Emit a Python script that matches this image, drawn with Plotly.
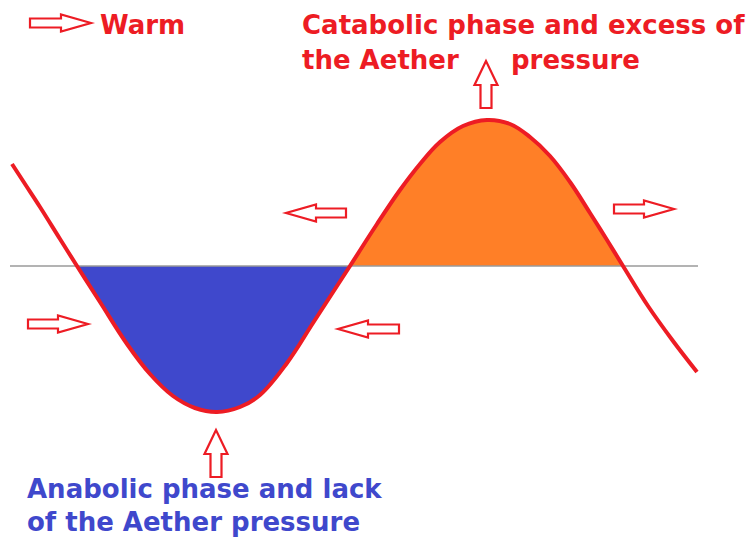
import plotly.graph_objects as go

# ---- data (x: horizontal position, y: displacement above the baseline) ----
curve_x = [12, 25, 40, 60, 77, 100, 127, 150, 173, 195, 217, 240, 260, 287, 313, 337, 350,
           377, 400, 420, 440, 463, 487, 510, 530, 550, 570, 590, 607, 623, 648, 673, 697]
curve_y = [102, 82, 59, 27, 0, -36, -78, -108, -130, -142, -146, -141, -129, -97, -57, -20, 0,
           42, 76, 102, 124, 140, 146, 142, 129, 110, 84, 53, 26, 0, -40, -75, -106]
baseline_x = [10, 698]
anabolic_span = [77, 350]
catabolic_span = [350, 623]

# arrows: tip x, tip y, direction, length
arrow_tips_x = [91, 286, 674, 88, 338, 486, 216]
arrow_tips_y = [243, 53, 57, -58, -63, 205, -164]
arrow_dirs = ["right", "left", "right", "right", "left", "up", "up"]
arrow_lengths = [61, 60, 60, 60, 61, 47, 47]

labels = ["Warm", "Catabolic phase and excess of", "the Aether", "pressure",
          "Anabolic phase and lack", "of the Aether pressure"]
label_x = [98, 300, 300, 509, 25, 25]
label_y = [241, 241, 206, 206, -223, -256]
label_colors = ["#ED1C24", "#ED1C24", "#ED1C24", "#ED1C24", "#3F48CC", "#3F48CC"]

RED = "#ED1C24"
BLUE = "#3F48CC"
ORANGE = "#FF7F27"

# the page body adds an 8px margin; shift the visible window to compensate
PAGE_OFFSET = 8

fig = go.Figure()


def segment(lo, hi):
    xs = [x for x in curve_x if lo <= x <= hi]
    ys = [y for x, y in zip(curve_x, curve_y) if lo <= x <= hi]
    return xs, ys


bx, by = segment(*anabolic_span)
fig.add_trace(go.Scatter(x=bx, y=by, fill="toself", fillcolor=BLUE, mode="lines",
                         line=dict(width=0, shape="spline", smoothing=1.1), hoverinfo="skip"))
ox, oy = segment(*catabolic_span)
fig.add_trace(go.Scatter(x=ox, y=oy, fill="toself", fillcolor=ORANGE, mode="lines",
                         line=dict(width=0, shape="spline", smoothing=1.1), hoverinfo="skip"))

fig.add_trace(go.Scatter(x=baseline_x, y=[0, 0], mode="lines",
                         line=dict(color="#9a9a9a", width=1.5), hoverinfo="skip"))

fig.add_trace(go.Scatter(x=curve_x, y=curve_y, mode="lines",
                         line=dict(color=RED, width=4, shape="spline", smoothing=1.1),
                         hoverinfo="skip"))


def arrow_path(tx, ty, d, length):
    if d in ("left", "right"):
        head_len, head_half, shaft_half = 30, 8.5, 4.5
    else:
        head_len, head_half, shaft_half = 24, 11.5, 5.5
    ux, uy = {"right": (1, 0), "left": (-1, 0), "up": (0, 1), "down": (0, -1)}[d]
    px, py = -uy, ux
    pts = [
        (tx, ty),
        (tx - ux * head_len + px * head_half, ty - uy * head_len + py * head_half),
        (tx - ux * head_len + px * shaft_half, ty - uy * head_len + py * shaft_half),
        (tx - ux * length + px * shaft_half, ty - uy * length + py * shaft_half),
        (tx - ux * length - px * shaft_half, ty - uy * length - py * shaft_half),
        (tx - ux * head_len - px * shaft_half, ty - uy * head_len - py * shaft_half),
        (tx - ux * head_len - px * head_half, ty - uy * head_len - py * head_half),
    ]
    return "M " + " L ".join(f"{x},{y}" for x, y in pts) + " Z"


for tx, ty, d, ln in zip(arrow_tips_x, arrow_tips_y, arrow_dirs, arrow_lengths):
    fig.add_shape(type="path", path=arrow_path(tx, ty, d, ln), xref="x", yref="y",
                  line=dict(color=RED, width=2.2), fillcolor="white", layer="above")

for txt, x, y, c in zip(labels, label_x, label_y, label_colors):
    fig.add_annotation(text=txt, x=x, y=y, xref="x", yref="y", xanchor="left",
                       yanchor="middle", showarrow=False,
                       font=dict(family="DejaVu Sans", size=26, color=c, weight="bold"))

fig.update_layout(
    width=756, height=538,
    margin=dict(l=0, r=0, t=0, b=0),
    paper_bgcolor="white", plot_bgcolor="white",
    showlegend=False,
    xaxis=dict(range=[PAGE_OFFSET, 756 + PAGE_OFFSET], visible=False, fixedrange=True),
    yaxis=dict(range=[-272 - PAGE_OFFSET, 266 - PAGE_OFFSET], visible=False, fixedrange=True),
)

fig.write_html("out.html")
